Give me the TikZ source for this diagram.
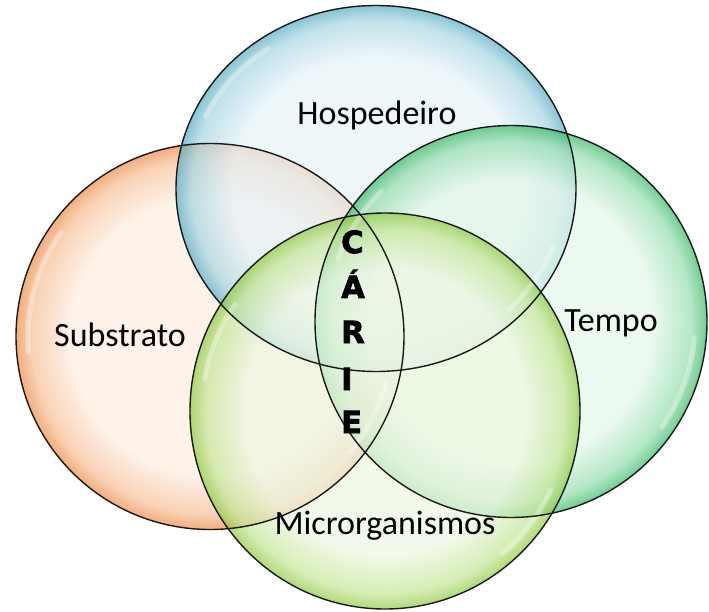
\documentclass[tikz,border=0pt]{standalone}
\usepackage{fontspec}
\setmainfont{Carlito}
\newfontfamily\cariefont[BoldFeatures={FakeBold=2.5}]{DejaVu Sans}
\definecolor{bluein}{HTML}{E6F2F7}
\definecolor{bluemid}{HTML}{A9D6E3}
\definecolor{blueout}{HTML}{5AAEC6}
\definecolor{orgin}{HTML}{FDEDE0}
\definecolor{orgmid}{HTML}{F6C199}
\definecolor{orgout}{HTML}{EE8E4C}
\definecolor{grnin}{HTML}{E4F7EA}
\definecolor{grnmid}{HTML}{98DDB0}
\definecolor{grnout}{HTML}{3BBB69}
\definecolor{ylwin}{HTML}{EEF7E2}
\definecolor{ylwmid}{HTML}{C6E69A}
\definecolor{ylwout}{HTML}{92CB44}
\pgfdeclareradialshading{bubbleblue}{\pgfpoint{0bp}{0bp}}{color(0bp)=(bluein); color(18bp)=(bluein); color(23bp)=(bluemid); color(25bp)=(blueout); color(50bp)=(blueout)}
\pgfdeclareradialshading{bubbleorg}{\pgfpoint{0bp}{0bp}}{color(0bp)=(orgin); color(18bp)=(orgin); color(23bp)=(orgmid); color(25bp)=(orgout); color(50bp)=(orgout)}
\pgfdeclareradialshading{bubblegrn}{\pgfpoint{0bp}{0bp}}{color(0bp)=(grnin); color(18bp)=(grnin); color(23bp)=(grnmid); color(25bp)=(grnout); color(50bp)=(grnout)}
\pgfdeclareradialshading{bubbleylw}{\pgfpoint{0bp}{0bp}}{color(0bp)=(ylwin); color(18bp)=(ylwin); color(23bp)=(ylwmid); color(25bp)=(ylwout); color(50bp)=(ylwout)}
\begin{document}
\begin{tikzpicture}[x=1pt,y=-1pt,
  bubble/.style={fill opacity=0.72},
  rim/.style={draw=black!90, line width=1.4pt},
  gloss/.style={draw=white, line width=5pt, opacity=0.35, line cap=round},
  lbl/.style={font=\fontsize{34}{40}\selectfont, text=black, inner sep=0pt, anchor=base},
  lett/.style={font=\cariefont\bfseries\fontsize{30.5}{34}\selectfont, text=black, inner sep=0pt, anchor=base west}]
\useasboundingbox (0,0) rectangle (709,612);
% fills
\shade[bubble, shading=bubbleorg] (210,336.5) ellipse [x radius=194, y radius=193];
\shade[bubble, shading=bubbleblue] (376,188.5) ellipse [x radius=200, y radius=183];
\shade[bubble, shading=bubblegrn] (511,321.5) ellipse [x radius=196, y radius=196];
\shade[bubble, shading=bubbleylw] (385,411) ellipse [x radius=195, y radius=198];
% gloss highlights
\draw[gloss] (210,336.5) ++(175:182 and 181) arc[start angle=175, end angle=215, x radius=182, y radius=181];
\draw[gloss] (210,336.5) ++(15:182 and 181) arc[start angle=15, end angle=40, x radius=182, y radius=181];
\draw[gloss] (376,188.5) ++(205:188 and 171) arc[start angle=205, end angle=235, x radius=188, y radius=171];
\draw[gloss] (376,188.5) ++(20:188 and 171) arc[start angle=20, end angle=45, x radius=188, y radius=171];
\draw[gloss] (511,321.5) ++(5:184 and 184) arc[start angle=5, end angle=35, x radius=184, y radius=184];
\draw[gloss] (511,321.5) ++(200:184 and 184) arc[start angle=200, end angle=225, x radius=184, y radius=184];
\draw[gloss] (385,411) ++(25:183 and 186) arc[start angle=25, end angle=50, x radius=183, y radius=186];
\draw[gloss] (385,411) ++(190:183 and 186) arc[start angle=190, end angle=215, x radius=183, y radius=186];
% outlines
\draw[rim] (210,336.5) ellipse [x radius=194, y radius=193];
\draw[rim] (376,188.5) ellipse [x radius=200, y radius=183];
\draw[rim] (511,321.5) ellipse [x radius=196, y radius=196];
\draw[rim] (385,411) ellipse [x radius=195, y radius=198];
% labels
\node[lbl] (hosp) at (377,125) {Hospedeiro};
\node[lbl] (subs) at (120,346) {Substrato};
\node[lbl] (temp) at (611,331) {Tempo};
\node[lbl] (micr) at (385,534) {Microrganismos};
% CÁRIE
\node[lett] (c1) at (341,253) {C};
\node[lett] (c2) at (341,298) {Á};
\node[lett] (c3) at (341,343) {R};
\node[lett] (c4) at (341,390) {I};
\node[lett] (c5) at (341,433) {E};
\end{tikzpicture}
\end{document}
